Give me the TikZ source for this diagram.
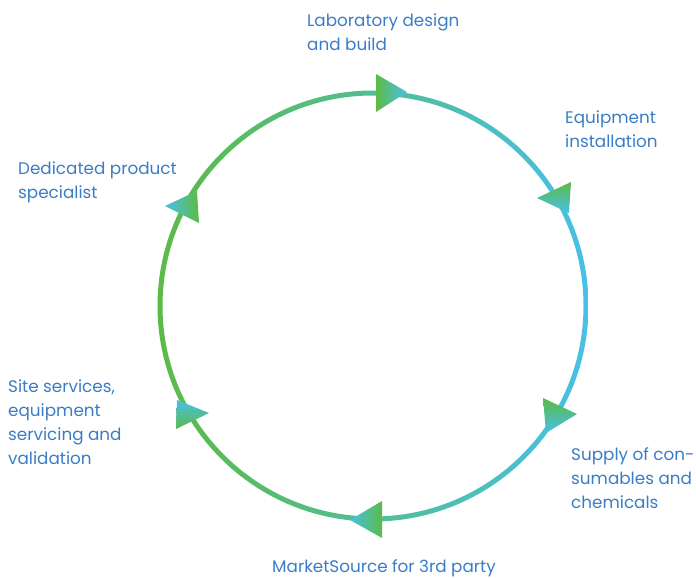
\documentclass[tikz,border=0pt]{standalone}
\usepackage{fontspec}
\setmainfont{Poppins}
\definecolor{ringgreen}{HTML}{5CBB46}
\definecolor{ringblue}{HTML}{48C0E8}
\definecolor{textblue}{HTML}{3A7DC6}
\tikzset{lbl/.style={anchor=north west,inner sep=0pt,align=left,text=textblue,font=\fontsize{16.8}{24}\selectfont}}
\begin{document}
\begin{tikzpicture}[line cap=round,line join=round,x=1pt,y=-1pt]
    \useasboundingbox (0,0) rectangle (696,578);
    % ring, green on the left and blue on the right
    \shade[left color=ringgreen,right color=ringblue,even odd rule] (373,306) circle[radius=215.5pt] (373,306) circle[radius=210.5pt];
    % markers on the ring
    \shade[left color=ringgreen,right color=ringblue] (376,74) -- (376,112) -- (407,92) -- cycle;
    \shade[top color=ringgreen,bottom color=ringblue] (571,182) -- (569,213) -- (537,198) -- cycle;
    \shade[top color=ringgreen,bottom color=ringblue] (543,398) -- (546,433) -- (577,414) -- cycle;
    \shade[left color=ringblue,right color=ringgreen] (382,501) -- (382,538) -- (350,520) -- cycle;
    \shade[top color=ringblue,bottom color=ringgreen] (177,400) -- (176,429) -- (209,413) -- cycle;
    \shade[left color=ringblue,right color=ringgreen] (197,191) -- (199,223) -- (165,206) -- cycle;
    % labels
    \node[lbl] (lab) at (307,14) {Laboratory design\\and build};
    \node[lbl] (equip) at (565,111) {Equipment\\installation};
    \node[lbl] (supply) at (571,447) {Supply of con-\\sumables and\\chemicals};
    \node[lbl] (market) at (272,559) {MarketSource for 3rd party};
    \node[lbl] (site) at (8,380) {Site services,\\equipment\\servicing and\\validation};
    \node[lbl] (special) at (18,162) {Dedicated product\\specialist};
\end{tikzpicture}
\end{document}
